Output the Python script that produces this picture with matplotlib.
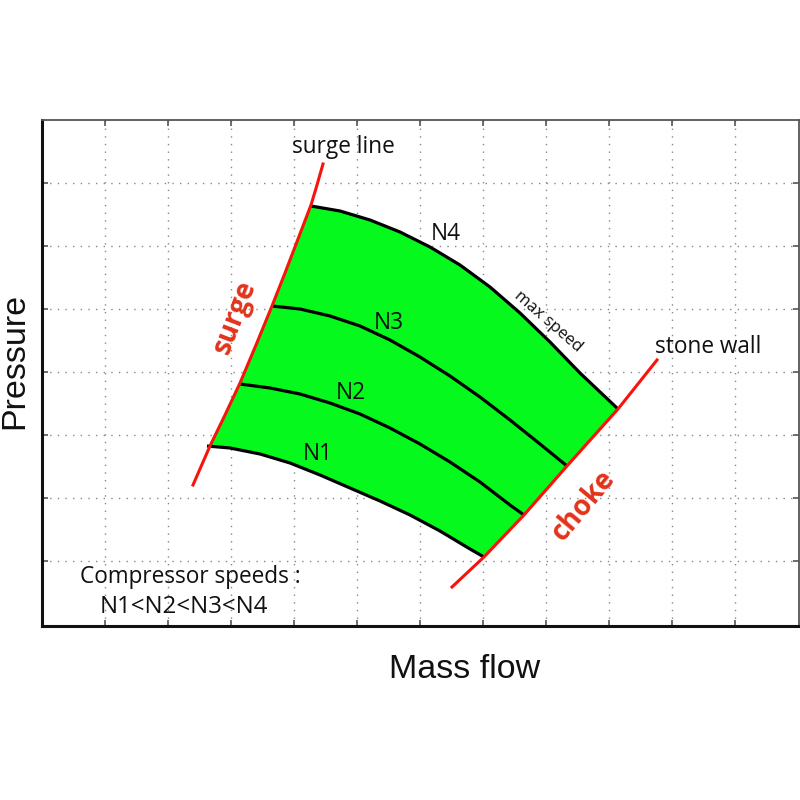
import numpy as np
import matplotlib
matplotlib.use("Agg")
import matplotlib.pyplot as plt

X0, X1, Y0, Y1 = 42, 799, 626, 120   # axes frame in pixels (layout only)

def dx(p): return [(v - 42) / 63.0 for v in p]
def dy(p): return [(624 - v) / 63.0 for v in p]

# speed lines in map units
n1_x = dx([207, 230, 260, 290, 320, 350, 380, 410, 440, 470, 484])
n1_y = dy([446, 448, 454, 463, 475, 488, 501, 515, 531, 549, 557])
n2_x = dx([240, 270, 300, 330, 360, 390, 420, 450, 480, 510, 524])
n2_y = dy([384, 388, 394, 403, 414, 428, 444, 462, 482, 505, 515])
n3_x = dx([272, 300, 330, 360, 390, 420, 450, 480, 510, 540, 567])
n3_y = dy([306, 309, 316, 326, 340, 357, 376, 397, 420, 444, 466])
n4_x = dx([311, 340, 370, 400, 430, 460, 490, 520, 550, 580, 618])
n4_y = dy([206, 211, 220, 232, 247, 265, 287, 313, 342, 373, 409])
surge_x = dx([193, 210, 225, 240, 256, 272, 285, 298, 311, 317, 323])
surge_y = dy([485, 446, 415, 383, 345, 306, 273, 239, 205, 185, 164])
choke_x = dx([452, 484, 524, 567, 618, 657])
choke_y = dy([587, 557, 515, 466, 409, 360])

fig = plt.figure(figsize=(8, 8), dpi=100)
ax = fig.add_axes([X0 / 800, 1 - Y0 / 800, (X1 - X0) / 800, (Y0 - Y1) / 800])
ax.set_xlim(0, (X1 - X0) / 63.0)
ax.set_ylim((624 - Y0) / 63.0, (624 - Y1) / 63.0)
ax.set_xticks(np.arange(1, 12))
ax.set_yticks(np.arange(1, 8))
ax.tick_params(direction="in", length=4, width=1.2, color="#555555",
               top=True, right=True, labelbottom=False, labelleft=False)
ax.grid(True, color="#888888", linestyle=(0, (1, 4.5)), linewidth=1.0)
ax.set_axisbelow(True)
for s in ("left", "bottom"):
    ax.spines[s].set_linewidth(2.2)
    ax.spines[s].set_color("#111111")
for s in ("top", "right"):
    ax.spines[s].set_linewidth(1.3)
    ax.spines[s].set_color("#555555")

# green region enclosed by the surge, N4, choke and N1 curves
poly_x = surge_x[1:-2] + n4_x + choke_x[-2:0:-1] + n1_x[::-1][:-1]
poly_y = surge_y[1:-2] + n4_y + choke_y[-2:0:-1] + n1_y[::-1][:-1]
ax.fill(poly_x, poly_y, color="#05f91c", lw=0, zorder=2)

for xs, ys in ((n1_x, n1_y), (n2_x, n2_y), (n3_x, n3_y), (n4_x, n4_y)):
    ax.plot(xs, ys, color="black", lw=2.3, zorder=3, solid_capstyle="butt")
ax.plot(surge_x, surge_y, color="#f8140c", lw=2.2, zorder=4)
ax.plot(choke_x, choke_y, color="#f8140c", lw=2.2, zorder=4)

def label(px, py, s, size, **kw):
    fig.text(px / 800, 1 - py / 800, s, ha="center", va="center", fontsize=size, **kw)

sans = ["Open Sans", "DejaVu Sans"]
arial = ["Liberation Sans", "DejaVu Sans"]
label(343, 147, "surge line", 16.3, family=sans, color="#111111")
label(708, 347, "stone wall", 16.3, family=sans, color="#111111")
label(446, 234, "N4", 16.3, family=sans, color="#111111")
label(389, 323, "N3", 16.3, family=sans, color="#111111")
label(351, 393, "N2", 16.3, family=sans, color="#111111")
label(318, 454, "N1", 16.3, family=sans, color="#111111")
label(548, 322, "max speed", 12, family=sans, rotation=-41, color="#111111")
label(235, 317, "surge", 20, family=sans, weight="bold", color="#e2331b", rotation=69)
label(584, 505, "choke", 20, family=sans, weight="bold", color="#e2331b", rotation=50)
label(190, 577, "Compressor speeds :", 16.3, family=sans, color="#111111")
label(184, 607, "N1<N2<N3<N4", 17.3, family=sans, color="#111111")
label(465, 670, "Mass flow", 24.5, family=arial, color="#111111")
label(15, 361, "Pressure", 24.5, family=arial, rotation=90, color="#111111")

fig.savefig("out.png", dpi=100)
